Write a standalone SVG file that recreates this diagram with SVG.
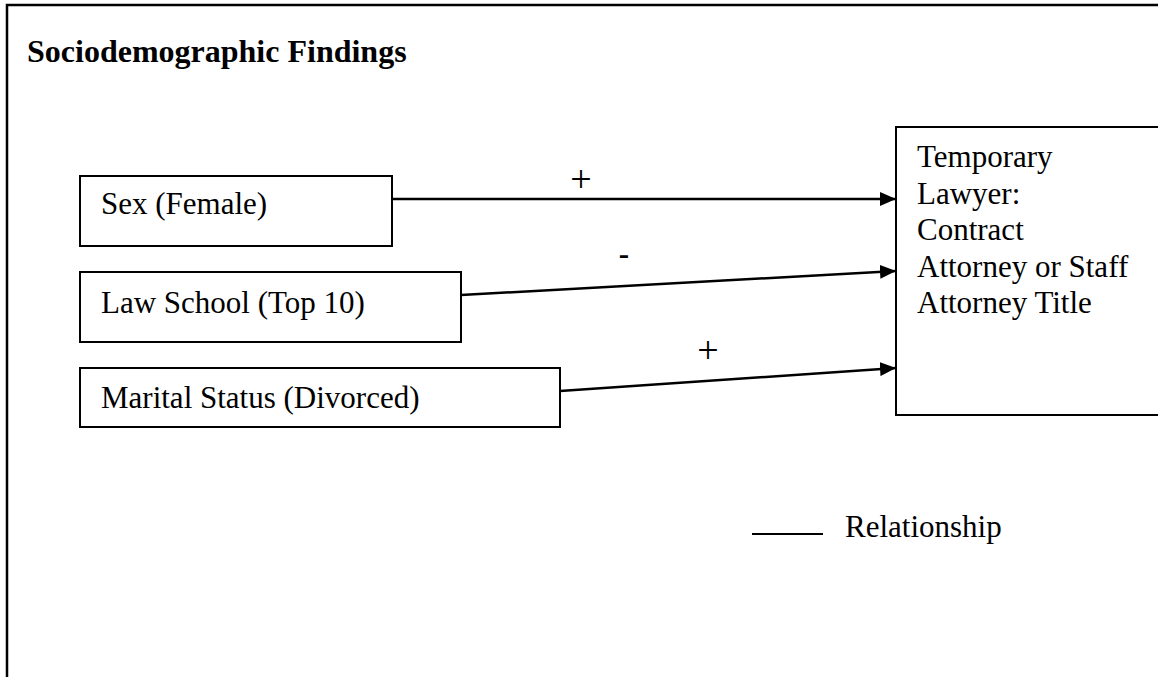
<svg xmlns="http://www.w3.org/2000/svg" width="1158" height="677" viewBox="0 0 1158 677">
<style>
.box{fill:#fff;stroke:#000;stroke-width:2}
.t{font-family:"Liberation Serif","Times New Roman",serif;font-size:31px;fill:#000}
.title{font-weight:bold}
.sign{font-size:38px}
.conn{stroke:#000;stroke-width:2.5;fill:none}
</style>
<defs>
<marker id="arr" markerUnits="userSpaceOnUse" markerWidth="16" markerHeight="14" refX="16" refY="7" orient="auto">
<path d="M0,0 L16,7 L0,14 Z" fill="#000"/>
</marker>
</defs>
<rect width="1158" height="677" fill="#fff"/>
<g id="frame">
<path d="M7,677 L7,5 L1160,5" stroke="#000" stroke-width="2.5" fill="none"/>
<text class="t title" x="27" y="62" style="font-size:32px">Sociodemographic Findings</text>
</g>
<g id="sex">
<rect class="box" x="80" y="176" width="312" height="70"/>
<text class="t" x="101" y="214">Sex (Female)</text>
</g>
<g id="law">
<rect class="box" x="80" y="272" width="381" height="70"/>
<text class="t" x="101" y="313">Law School (Top 10)</text>
</g>
<g id="marital">
<rect class="box" x="80" y="368" width="480" height="59"/>
<text class="t" x="101" y="408">Marital Status (Divorced)</text>
</g>
<g id="temporary">
<rect class="box" x="896" y="127" width="280" height="288"/>
<text class="t" x="917" y="167">Temporary</text>
<text class="t" x="917" y="203.5">Lawyer:</text>
<text class="t" x="917" y="240">Contract</text>
<text class="t" x="917" y="276.5">Attorney or Staff</text>
<text class="t" x="917" y="313">Attorney Title</text>
</g>
<g id="connectors">
<line class="conn" x1="392" y1="199" x2="896" y2="199" marker-end="url(#arr)"/>
<line class="conn" x1="461" y1="295" x2="896" y2="271" marker-end="url(#arr)"/>
<line class="conn" x1="560" y1="391" x2="896" y2="368" marker-end="url(#arr)"/>
<text class="t sign" x="581" y="192" text-anchor="middle">+</text>
<text class="t title" x="624" y="264" text-anchor="middle">-</text>
<text class="t sign" x="708" y="363" text-anchor="middle">+</text>
</g>
<g id="legend">
<line x1="752" y1="534" x2="823" y2="534" stroke="#000" stroke-width="2"/>
<text class="t" x="845" y="537">Relationship</text>
</g>
</svg>
